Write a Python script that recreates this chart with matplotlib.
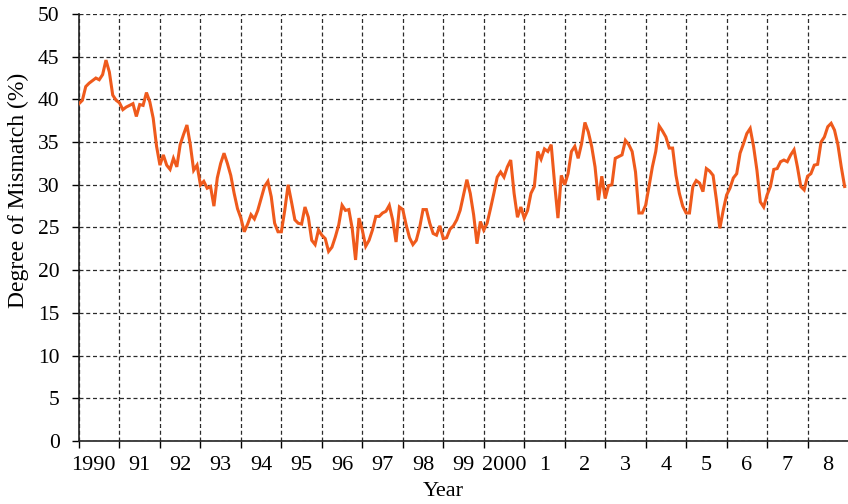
import numpy as np
import matplotlib.pyplot as plt
from matplotlib.ticker import FixedLocator, NullFormatter

plt.rcParams['font.family'] = ['Liberation Serif', 'DejaVu Serif']

# monthly degree of mismatch (%), Jan 1990 - Dec 2008
start_year = 1990
mismatch = [
    39.5, 39.9, 41.5, 41.9, 42.2, 42.5, 42.3, 42.9, 44.6, 43.2, 40.5, 39.9,  # 1990
    39.6, 38.8, 39.1, 39.3, 39.5, 38.0, 39.4, 39.3, 40.8, 39.7, 37.8, 34.5,  # 1991
    32.3, 33.5, 32.3, 31.8, 33.1, 32.1, 34.7, 35.9, 37.0, 34.7, 31.7, 32.3,  # 1992
    30.0, 30.4, 29.6, 29.8, 27.5, 30.8, 32.5, 33.7, 32.5, 31.1, 29.0, 27.2,  # 1993
    26.1, 24.5, 25.4, 26.5, 26.0, 27.0, 28.4, 29.8, 30.4, 28.6, 25.5, 24.5,  # 1994
    24.5, 27.0, 30.0, 28.0, 25.9, 25.5, 25.4, 27.4, 26.2, 23.5, 23.0, 24.7,  # 1995
    24.1, 23.7, 22.2, 22.7, 23.9, 25.3, 27.6, 27.0, 27.1, 24.9, 21.2, 26.1,  # 1996
    24.7, 22.8, 23.5, 24.7, 26.3, 26.3, 26.7, 26.9, 27.6, 25.9, 23.3, 27.4,  # 1997
    27.1, 25.3, 23.8, 23.0, 23.5, 25.0, 27.1, 27.1, 25.5, 24.3, 24.1, 25.2,  # 1998
    23.7, 23.8, 24.8, 25.2, 25.9, 27.0, 28.8, 30.6, 29.0, 26.5, 23.1, 25.7,  # 1999
    24.7, 25.5, 27.2, 29.0, 30.9, 31.5, 30.9, 32.1, 32.9, 29.0, 26.2, 27.4,  # 2000
    26.1, 27.0, 29.0, 29.8, 33.9, 33.0, 34.2, 33.9, 34.7, 30.2, 26.1, 31.1,  # 2001
    30.0, 31.3, 33.9, 34.5, 33.1, 34.8, 37.3, 36.2, 34.5, 32.1, 28.2, 31.0,  # 2002
    28.4, 29.9, 30.0, 33.1, 33.3, 33.5, 35.2, 34.7, 33.9, 31.5, 26.7, 26.7,  # 2003
    27.6, 29.8, 32.1, 33.9, 36.9, 36.3, 35.6, 34.3, 34.3, 31.1, 29.0, 27.5,  # 2004
    26.7, 26.7, 29.8, 30.5, 30.2, 29.2, 31.9, 31.6, 31.1, 28.2, 24.9, 27.0,  # 2005
    28.8, 29.6, 30.8, 31.3, 33.7, 34.8, 36.0, 36.6, 34.5, 31.7, 28.0, 27.4,  # 2006
    28.8, 29.8, 31.8, 31.9, 32.7, 32.9, 32.7, 33.5, 34.1, 32.1, 29.8, 29.4,  # 2007
    31.0, 31.3, 32.3, 32.4, 35.0, 35.6, 36.8, 37.2, 36.4, 34.7, 32.1, 29.8,  # 2008
]
year_labels = ['1990', '91', '92', '93', '94', '95', '96', '97', '98', '99',
               '2000', '1', '2', '3', '4', '5', '6', '7', '8']
y_ticks = [0, 5, 10, 15, 20, 25, 30, 35, 40, 45, 50]

t = start_year + np.arange(len(mismatch)) / 12.0
years = np.arange(start_year, start_year + len(year_labels))

fig = plt.figure(figsize=(8.48, 5.04), dpi=100)
ax = fig.add_axes([79/848, 63/504, 769/848, 427/504])

ax.plot(t, mismatch, color='#EF5A1C', lw=2.2, solid_joinstyle='miter', zorder=3)

ax.set_xlim(1990, 2009)
ax.set_ylim(0, 50)

# year boundaries carry ticks and grid, labels sit mid-year
ax.xaxis.set_major_locator(FixedLocator(years))
ax.xaxis.set_major_formatter(NullFormatter())
label_pos = years + 0.5
label_pos[0] = 1990.36
ax.xaxis.set_minor_locator(FixedLocator(label_pos))
ax.set_xticklabels(year_labels, minor=True)
ax.tick_params(axis='x', which='minor', length=0, pad=11, labelsize=16)
ax.tick_params(axis='x', which='major', length=5, width=1, direction='out')

ax.set_yticks(y_ticks)
ax.tick_params(axis='y', length=5, width=1, direction='out', pad=9, labelsize=15.5)

ax.grid(True, which='major', color='#2a2a2a', lw=0.9, linestyle=(0, (3.2, 2.2)))
ax.set_axisbelow(True)

for s in ['top', 'right']:
    ax.spines[s].set_visible(False)
for s in ['left', 'bottom']:
    ax.spines[s].set_linewidth(1.2)
    ax.spines[s].set_color('#222222')

ax.set_xlabel('Year', fontsize=16)
ax.xaxis.set_label_coords((443 - 79) / 769, -41 / 427)
ax.set_ylabel('Degree of Mismatch (%)', fontsize=17)
ax.yaxis.set_label_coords(-50 / 769, (441 - 190) / 427)

fig.savefig('out.png', dpi=100)
